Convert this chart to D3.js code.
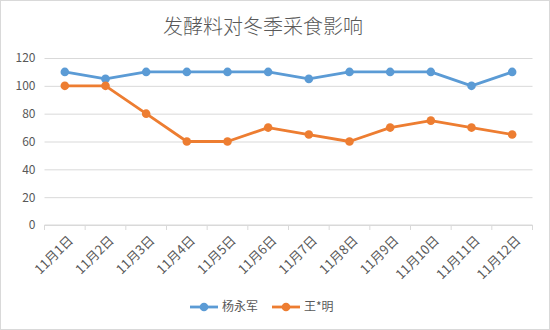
<!DOCTYPE html>
<html><head><meta charset="utf-8">
<script src="https://cdn.jsdelivr.net/npm/d3@7"></script>
<style>body{margin:0;background:#fff}svg{display:block}</style>
</head><body>
<svg id="c" width="550" height="330"></svg>
<script>
const categories = ["11月1日","11月2日","11月3日","11月4日","11月5日","11月6日","11月7日","11月8日","11月9日","11月10日","11月11日","11月12日"];
const seriesNames = ["杨永军","王*明"];
const yang = [110,105,110,110,110,110,105,110,110,110,100,110];
const wang = [100,100,80,60,60,70,65,60,70,75,70,65];
const yTicks = [0,20,40,60,80,100,120];
const colors = ["#5B9BD5","#ED7D31"];
const title = "发酵料对冬季采食影响";

const svg = d3.select("#c");
const font = "'Noto Sans CJK SC', 'Microsoft YaHei', sans-serif";
svg.append("rect").attr("x",0.5).attr("y",0.5).attr("width",549).attr("height",329)
  .attr("fill","#fff").attr("stroke","#d9d9d9");

const x = d3.scaleBand().domain(categories).range([44.5,532.5]);
const y = d3.scaleLinear().domain([0,120]).range([225,58]);

svg.append("text").attr("x",263).attr("y",34).attr("text-anchor","middle")
  .attr("font-family",font).attr("font-size",20).attr("font-weight",300).attr("fill","#595959").text(title);

// gridlines
const gy = svg.append("g").attr("transform","translate(44.5,0)")
  .call(d3.axisLeft(y).tickValues(yTicks).tickSize(-488).tickPadding(9));
gy.select(".domain").remove();
gy.selectAll(".tick line").attr("stroke","#d9d9d9");
gy.selectAll(".tick text").attr("font-family",font).attr("font-size",12).attr("fill","#595959");

// x axis
const gx = svg.append("g").attr("transform","translate(0,225)");
gx.append("line").attr("x1",x.range()[0]).attr("x2",x.range()[1]).attr("stroke","#d9d9d9");
const bounds = categories.map(c=>x(c)).concat([x.range()[1]]);
gx.selectAll("line.t").data(bounds).join("line").attr("class","t")
  .attr("x1",d=>d).attr("x2",d=>d).attr("y1",0).attr("y2",5).attr("stroke","#d9d9d9");
gx.selectAll("text").data(categories).join("text")
  .attr("transform",d=>`translate(${x(d)+x.bandwidth()/2+6},${13}) rotate(-45)`)
  .attr("text-anchor","end").attr("dy","0.35em")
  .attr("font-family",font).attr("font-size",13).attr("fill","#595959").text(d=>d);

const line = d3.line().x((d,i)=>x(categories[i])+x.bandwidth()/2).y(d=>y(d));
[yang,wang].forEach((s,k)=>{
  svg.append("path").datum(s).attr("d",line).attr("fill","none")
    .attr("stroke",colors[k]).attr("stroke-width",2.8).attr("stroke-linejoin","round");
  svg.selectAll(null).data(s).join("circle")
    .attr("cx",(d,i)=>x(categories[i])+x.bandwidth()/2).attr("cy",d=>y(d)).attr("r",4.3)
    .attr("fill",colors[k]);
});

// legend
const leg = [{x:190,name:seriesNames[0],c:colors[0]},{x:272,name:seriesNames[1],c:colors[1]}];
leg.forEach(l=>{
  const g = svg.append("g");
  g.append("line").attr("x1",l.x).attr("x2",l.x+28).attr("y1",307).attr("y2",307)
    .attr("stroke",l.c).attr("stroke-width",2.8);
  g.append("circle").attr("cx",l.x+14).attr("cy",307).attr("r",4.3).attr("fill",l.c);
  g.append("text").attr("x",l.x+32).attr("y",307).attr("dy","0.35em")
    .attr("font-family",font).attr("font-size",12).attr("fill","#595959").text(l.name);
});
</script>
</body></html>
